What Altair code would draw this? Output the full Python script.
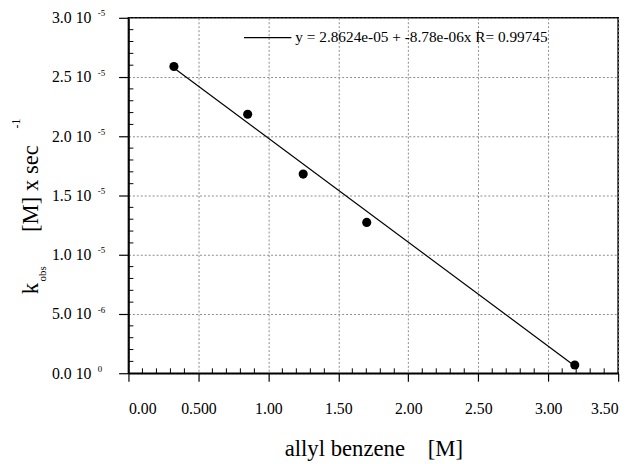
import altair as alt
import pandas as pd

# ---- data ----
conc = [0.325, 0.852, 1.249, 1.703, 3.19]                 # allyl benzene [M]
kobs = [2.589e-5, 2.186e-5, 1.681e-5, 1.273e-5, 0.069e-5]  # k_obs

fit_intercept = 2.8624e-05
fit_slope = -8.78e-06
legend_text = "y = 2.8624e-05 + -8.78e-06x R= 0.99745"

x_ticks = [0.0, 0.5, 1.0, 1.5, 2.0, 2.5, 3.0, 3.5]
x_tick_labels = ["0.00", "0.500", "1.00", "1.50", "2.00", "2.50", "3.00", "3.50"]
y_ticks = [0.0, 5e-06, 1e-05, 1.5e-05, 2e-05, 2.5e-05, 3e-05]
y_tick_mantissa = ["0.0 10", "5.0 10", "1.0 10", "1.5 10", "2.0 10", "2.5 10", "3.0 10"]
y_tick_exponent = ["0", "-6", "-5", "-5", "-5", "-5", "-5"]

x_minor = [round(i * 0.1, 2) for i in range(1, 35) if i % 5 != 0]
y_minor = [round(i * 1e-6, 12) for i in range(1, 30) if i % 5 != 0]

FONT = "Liberation Serif"
W, H = 496, 360

pts = pd.DataFrame({"x": conc, "y": kobs})
x_lo, x_hi = min(conc), max(conc)
fit = pd.DataFrame({"x": [x_lo, x_hi],
                    "y": [fit_intercept + fit_slope * x_lo, fit_intercept + fit_slope * x_hi]})
yt = pd.DataFrame({"y": y_ticks, "exp": y_tick_exponent})
xm = pd.DataFrame({"x": x_minor})
ym = pd.DataFrame({"y": y_minor})
one = pd.DataFrame({"a": [0]})

xscale = alt.Scale(domain=[0, 3.5], nice=False, zero=False)
yscale = alt.Scale(domain=[0, 3e-5], nice=False, zero=False)

def arr(v):
    return "[" + ",".join(repr(s) if isinstance(s, str) else repr(float(s)) for s in v) + "]"

x_label_expr = f"{arr(x_tick_labels)}[indexof({arr(x_ticks)}, datum.value)]"
y_label_expr = f"{arr(y_tick_mantissa)}[indexof({arr(y_ticks)}, datum.value)]"

xaxis = alt.Axis(values=x_ticks, labelExpr=x_label_expr,
                 title="allyl benzene\u00a0\u00a0\u00a0\u00a0[M]",
                 grid=True, gridDash=[2, 2], gridColor="#8a8a8a", gridWidth=1,
                 tickSize=8, tickColor="black", tickWidth=1.2,
                 labelPadding=20, labelFont=FONT, labelFontSize=16, labelColor="black",
                 titleFont=FONT, titleFontSize=23, titleFontWeight="normal",
                 titleColor="black", titlePadding=21,
                 domainColor="black", domainWidth=1.6)
yaxis = alt.Axis(values=y_ticks, labelExpr=y_label_expr, title=None,
                 grid=True, gridDash=[2, 2], gridColor="#8a8a8a", gridWidth=1,
                 tickSize=10, tickColor="black", tickWidth=1.2,
                 labelPadding=28, labelFont=FONT, labelFontSize=16, labelColor="black",
                 domainColor="black", domainWidth=1.6)

X = alt.X("x:Q", scale=xscale, axis=xaxis)
Y = alt.Y("y:Q", scale=yscale, axis=yaxis)

base_pts = alt.Chart(pts).mark_circle(size=85, color="black", opacity=1).encode(x=X, y=Y)

fit_line = alt.Chart(fit).mark_line(color="black", strokeWidth=1.2).encode(x=X, y=Y)

xminor_ticks = alt.Chart(xm).mark_rule(color="black", strokeWidth=1).encode(
    x=X, y=alt.value(H), y2=alt.value(H - 5),
)
yminor_ticks = alt.Chart(ym).mark_rule(color="black", strokeWidth=1).encode(
    y=Y, x=alt.value(0), x2=alt.value(5),
)

exps = alt.Chart(yt).mark_text(align="left", baseline="middle", dy=-4.5,
                               font=FONT, fontSize=9, color="black").encode(
    y=Y, x=alt.value(-31), text="exp:N",
)

# legend
leg_line = alt.Chart(one).mark_rule(color="black", strokeWidth=1.2).encode(
    x=alt.value(117), x2=alt.value(165), y=alt.value(20))
leg_text = alt.Chart(one).mark_text(align="left", baseline="middle", font=FONT,
                                    fontSize=15.5, color="black").encode(
    x=alt.value(169), y=alt.value(20), text=alt.value(legend_text))

# y title pieces (rotated)
def ytxt(t, x, y, size):
    return alt.Chart(one).mark_text(angle=270, align="left", baseline="alphabetic",
                                    font=FONT, fontSize=size, color="black").encode(
        x=alt.value(x), y=alt.value(y), text=alt.value(t))

yt_k = ytxt("k", -92, 280, 23)
yt_obs = ytxt("obs", -84, 267, 11)
yt_main = ytxt("[M] x sec", -92, 217, 23)
yt_exp = ytxt("-1", -110, 112, 12)

chart = alt.layer(
    base_pts, fit_line, xminor_ticks, yminor_ticks, exps,
    leg_line, leg_text, yt_k, yt_obs, yt_main, yt_exp,
).properties(
    width=W, height=H,
    autosize=alt.AutoSizeParams(type="none"),
    padding={"left": 122, "top": 7, "right": 13, "bottom": 89},
    background="white",
).configure_view(stroke="black", strokeWidth=1.6)

chart.save("out.html", embed_options={"renderer": "svg", "actions": False})
